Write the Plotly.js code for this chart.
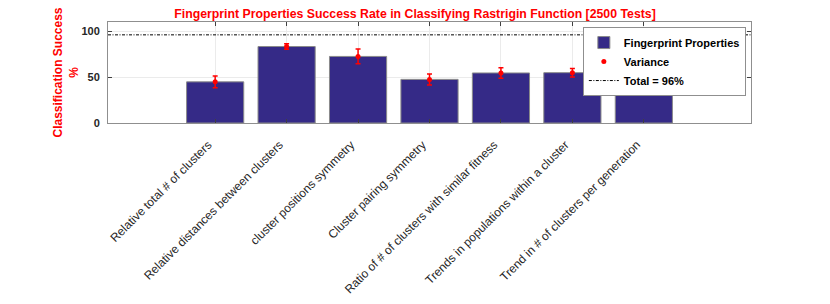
<!DOCTYPE html>
<html>
<head>
<meta charset="utf-8">
<script src="https://cdn.plot.ly/plotly-3.0.1.min.js"></script>
<style>
html,body{margin:0;padding:0;background:#fff;}
#chart{width:830px;height:304px;}
</style>
</head>
<body>
<div id="chart"></div>
<script>
// ---- data ----
const categories = [
  "Relative total # of clusters",
  "Relative distances between clusters",
  "cluster positions symmetry",
  "Cluster pairing symmetry",
  "Ratio of # of clusters with similar fitness",
  "Trends in populations within a cluster",
  "Trend in # of clusters per generation"
];
const positions = [1, 2, 3, 4, 5, 6, 7];
const successRate = [44.8, 83.3, 72.5, 47.5, 54.5, 54.8, 43.7];
const varianceErr = [6.5, 3.0, 8.0, 6.0, 5.8, 4.6, 2.8];
const totalRate = 96;
const xRange = [-0.5, 8.5];
const yRange = [0, 110];
const yTicks = [0, 50, 100];

const traces = [
  {
    type: 'bar',
    name: 'Fingerprint Properties',
    x: positions,
    y: successRate,
    width: 0.8,
    marker: {color: '#352A87', line: {color: '#8a8a8a', width: 1}},
    hoverinfo: 'x+y'
  },
  {
    type: 'scatter',
    mode: 'markers',
    name: 'Variance',
    x: positions,
    y: successRate,
    marker: {color: '#ff0000', size: 5, symbol: 'circle'},
    error_y: {type: 'data', array: varianceErr, visible: true, color: '#ff0000', thickness: 1.5, width: 2.5}
  },
  {
    type: 'scatter',
    mode: 'lines',
    name: 'Total = ' + totalRate + '%',
    x: xRange,
    y: [totalRate, totalRate],
    line: {color: '#000000', width: 1, dash: '3px,1.5px,1px,1.5px'}
  }
];

const layout = {
  width: 830,
  height: 304,
  paper_bgcolor: '#ffffff',
  plot_bgcolor: '#ffffff',
  margin: {l: 108, r: 79, t: 22, b: 181},
  showlegend: true,
  font: {family: 'Liberation Sans, Arial, sans-serif', color: '#262626'},
  title: {
    text: 'Fingerprint Properties Success Rate in Classifying Rastrigin Function [2500 Tests]',
    font: {family: 'Liberation Sans, Arial, sans-serif', size: 12.3, color: '#ff0000', weight: 'bold'},
    x: 0.5, xref: 'container', xanchor: 'center',
    y: 0.955, yref: 'container', yanchor: 'middle'
  },
  xaxis: {
    range: xRange,
    tickmode: 'array',
    tickvals: positions,
    ticktext: categories,
    tickangle: -45,
    tickfont: {size: 12, color: '#262626'},
    ticks: 'inside', ticklen: 4, tickcolor: '#404040',
    showline: true, linecolor: '#8f8f8f', linewidth: 1, mirror: 'ticks',
    showgrid: true, gridcolor: '#ebebeb', gridwidth: 1,
    zeroline: false,
    ticklabelstandoff: 9,
    ticklabelshift: -7
  },
  yaxis: {
    range: yRange,
    tickmode: 'array',
    tickvals: yTicks,
    ticktext: yTicks.map(String),
    tickfont: {size: 11, color: '#262626', weight: 'bold'},
    ticks: 'inside', ticklen: 4, tickcolor: '#404040',
    showline: true, linecolor: '#8f8f8f', linewidth: 1, mirror: 'ticks',
    showgrid: true, gridcolor: '#ebebeb', gridwidth: 1,
    zeroline: false,
    ticklabelstandoff: 5,
    title: {
      text: 'Classification Success<br>%',
      font: {size: 12, color: '#ff0000', weight: 'bold'},
      standoff: 0
    }
  },
  legend: {
    x: 0.992, xanchor: 'right', xref: 'paper',
    y: 0.95, yanchor: 'top', yref: 'paper',
    bgcolor: '#ffffff', bordercolor: '#8f8f8f', borderwidth: 1,
    font: {size: 11, color: '#000000', weight: 'bold'},
    tracegroupgap: 0,
    itemwidth: 30
  }
};

Plotly.newPlot('chart', traces, layout, {displayModeBar: false, staticPlot: true});
</script>
</body>
</html>
